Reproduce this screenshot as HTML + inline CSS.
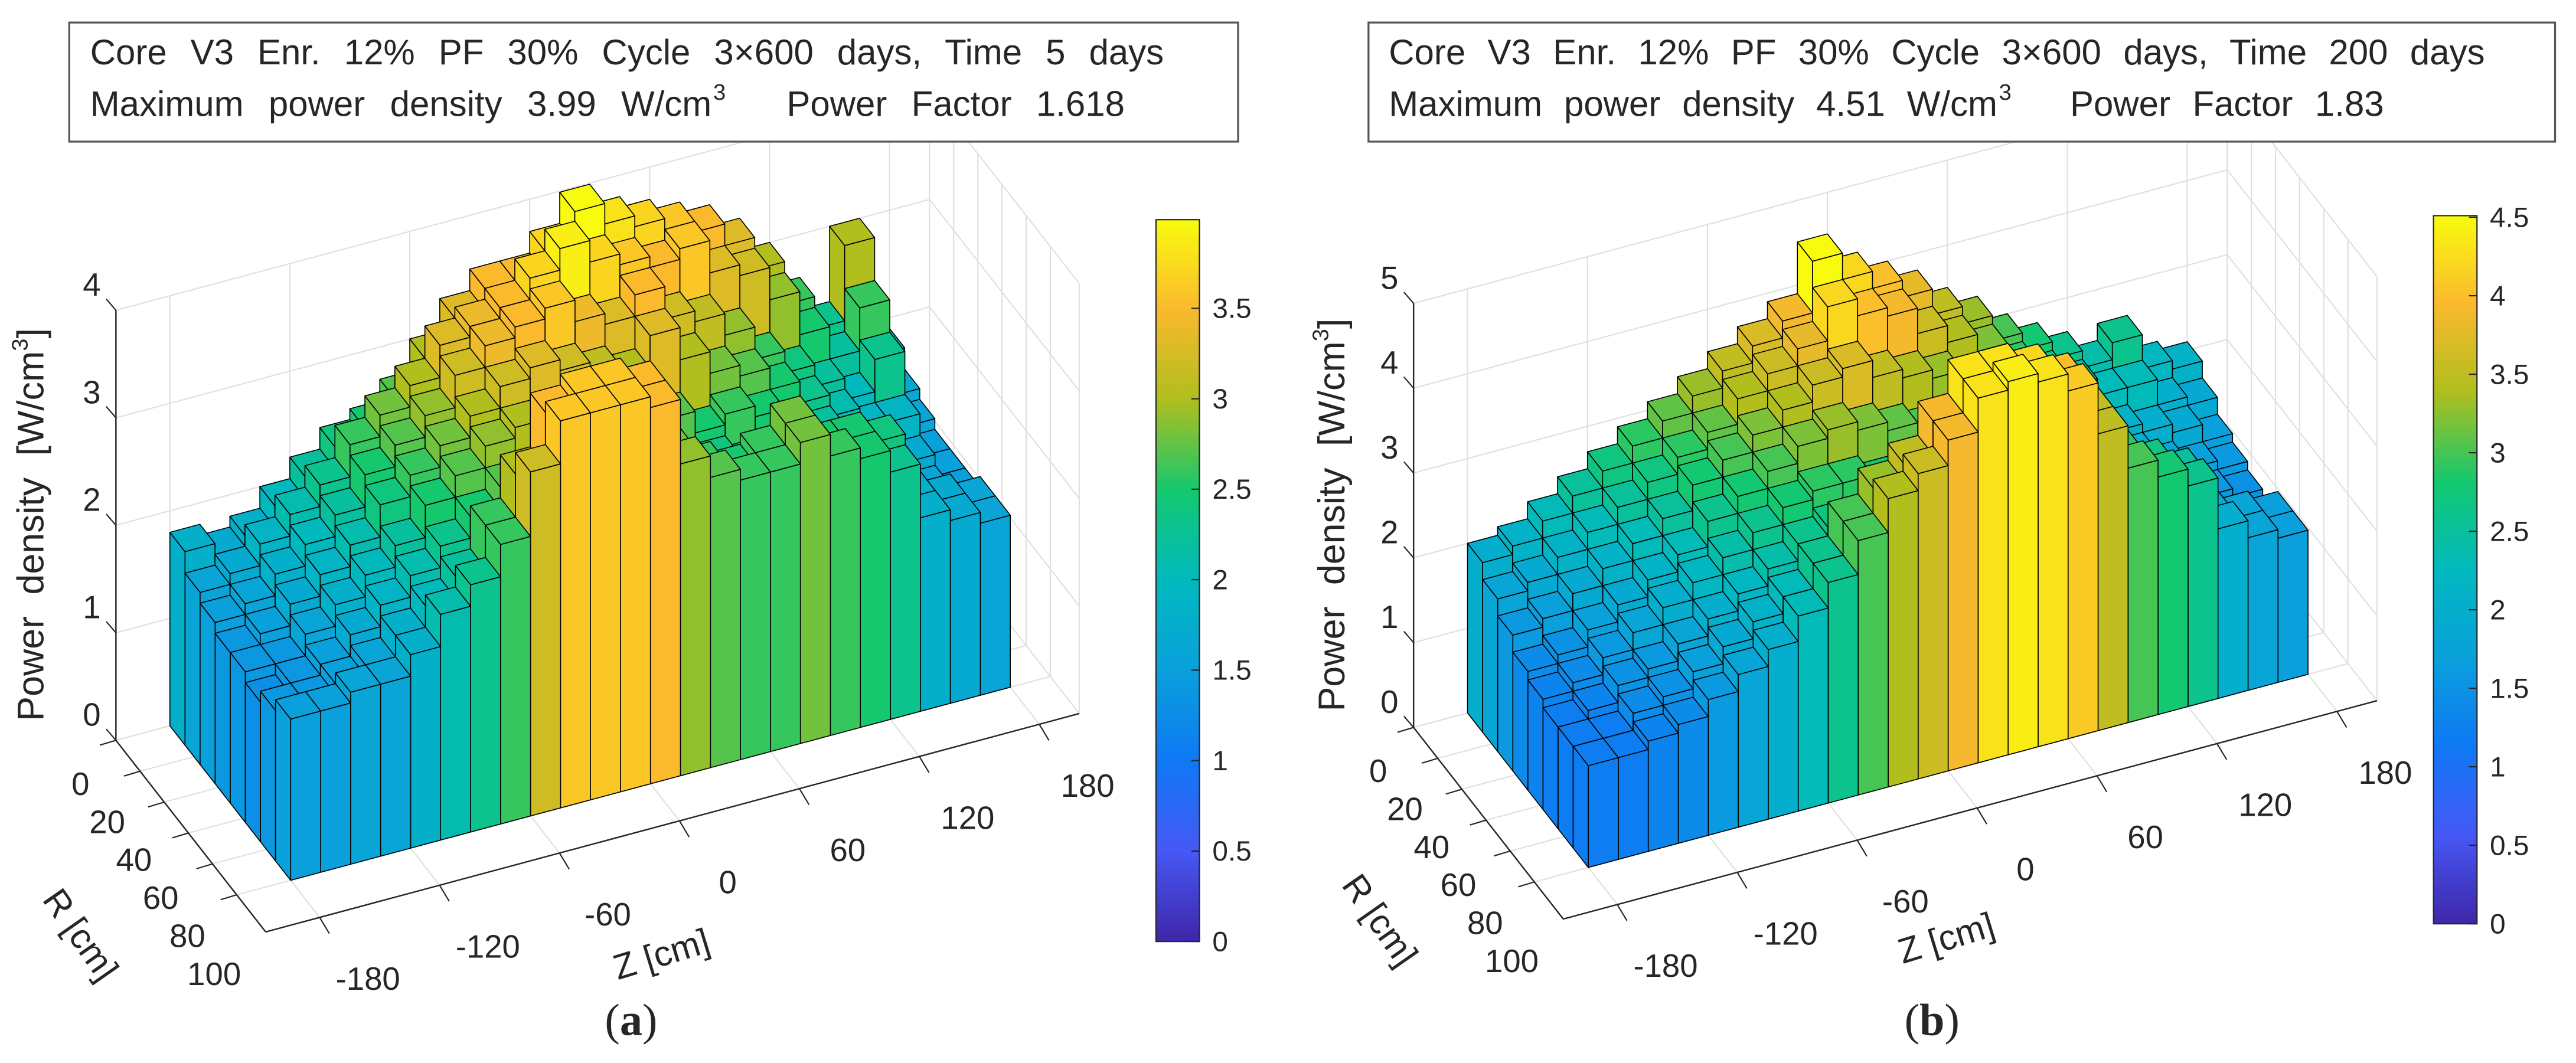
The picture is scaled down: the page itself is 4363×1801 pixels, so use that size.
<!DOCTYPE html>
<html><head><meta charset="utf-8"><style>
html,body{margin:0;padding:0;background:#fff}
svg{display:block}
text{font-family:"Liberation Sans",sans-serif;fill:#262626}
</style></head><body>
<svg id="fig" width="4363" height="1801" viewBox="0 0 1600 660.5" preserveAspectRatio="none" xmlns="http://www.w3.org/2000/svg">
<g id="pa"></g>
<g id="pb"></g>
</svg>
<script>
// Z ticks (cm) and R ticks (cm)
const zTicks = [-180,-120,-60,0,60,120,180];
const rTicks = [0,20,40,60,80,100];
const yTicksA = [0,1,2,3,4];
const yTicksB = [0,1,2,3,4,5];
const cbTicksA = [0,0.5,1,1.5,2,2.5,3,3.5];
const cbTicksB = [0,0.5,1,1.5,2,2.5,3,3.5,4,4.5];
// Panel (a) power density, rows from R=0 (back) to R=100 (front), 24 Z bins each
const a0 = [1.8,1.7,1.8,2.0,2.2,2.4,2.5,2.7,3.0,3.3,3.5,3.5,3.7,3.99,3.8,3.7,3.6,3.5,3.3,3.0,2.6,2.3,3.0,1.9];
const a1 = [1.6,1.7,1.9,2.1,2.3,2.6,2.8,3.0,3.3,3.4,3.5,3.7,3.9,3.7,3.6,3.5,3.6,3.3,3.2,2.9,2.5,2.2,2.6,1.7];
const a2 = [1.5,1.6,1.8,2.0,2.2,2.5,2.7,2.9,3.2,3.4,3.5,3.6,3.4,3.3,3.5,3.2,3.1,2.9,2.6,2.4,2.2,2.0,2.3,1.6];
const a3 = [1.4,1.5,1.7,1.9,2.1,2.4,2.6,2.8,3.0,3.2,3.3,3.2,3.1,3.0,3.3,3.0,2.8,2.7,2.5,2.3,2.1,1.9,1.9,1.5];
const a4 = [1.4,1.4,1.6,1.8,2.0,2.2,2.5,2.7,2.9,3.0,2.9,2.8,2.7,2.8,2.7,2.5,2.6,2.5,2.3,2.2,2.0,1.8,1.7,1.5];
const a5 = [1.3,1.4,1.5,1.7,1.9,2.1,2.3,2.5,2.7,2.6,2.5,2.4,2.5,2.3,2.4,2.4,2.3,2.2,2.1,2.0,1.9,1.7,1.6,1.5];
const a6 = [1.4,1.4,1.5,1.6,1.8,2.0,2.2,2.6,3.0,3.5,3.6,3.6,3.5,2.8,2.6,2.5,2.6,2.8,2.5,2.5,2.4,1.8,1.7,1.6];
const a7 = [1.5,1.5,1.6,1.6,1.8,2.1,2.3,2.6,3.2,3.6,3.6,3.6,3.5,2.9,2.7,2.6,2.6,2.8,2.6,2.5,2.3,1.8,1.7,1.6];
// Panel (b)
const b0 = [2.0,2.1,2.3,2.5,2.7,2.9,3.1,3.3,3.5,3.7,3.9,4.51,4.2,4.0,3.8,3.5,3.3,3.0,2.8,2.6,2.4,2.6,2.2,2.1];
const b1 = [1.8,1.9,2.1,2.3,2.5,2.7,2.9,3.1,3.4,3.6,3.8,4.2,4.0,3.9,3.6,3.4,3.2,2.9,2.7,2.5,2.3,2.3,2.0,1.9];
const b2 = [1.6,1.7,1.9,2.1,2.3,2.5,2.8,3.0,3.2,3.4,3.6,3.7,3.5,3.4,3.3,3.1,2.9,2.7,2.5,2.3,2.1,2.0,1.9,1.7];
const b3 = [1.4,1.5,1.7,1.9,2.1,2.3,2.6,2.8,3.0,3.2,3.3,3.2,3.1,3.0,3.0,2.8,2.7,2.5,2.3,2.2,2.0,1.8,1.7,1.6];
const b4 = [1.3,1.4,1.6,1.8,2.0,2.2,2.4,2.6,2.8,2.9,2.9,2.8,2.7,2.7,2.6,2.5,2.4,2.3,2.1,2.0,1.9,1.7,1.6,1.5];
const b5 = [1.2,1.3,1.5,1.6,1.8,2.0,2.2,2.4,2.6,2.7,2.6,2.6,2.5,2.5,2.4,2.3,2.2,2.1,2.0,1.9,1.8,1.6,1.5,1.4];
const b6 = [1.2,1.2,1.4,1.5,1.7,1.9,2.1,2.3,2.6,3.0,3.3,3.5,3.9,4.3,4.3,4.2,4.0,3.5,2.9,2.7,2.5,1.9,1.8,1.7];
const b7 = [1.2,1.2,1.3,1.4,1.6,1.8,2.0,2.3,2.6,3.0,3.4,3.6,3.9,4.3,4.4,4.3,4.1,3.5,3.0,2.8,2.6,2.0,1.8,1.7];
const rowsA = [a0,a1,a2,a3,a4,a5,a6,a7];
const rowsB = [b0,b1,b2,b3,b4,b5,b6,b7];

const NS = "http://www.w3.org/2000/svg";
function mk(tag, attrs, parent){
  const e = document.createElementNS(NS, tag);
  for (const k in attrs) e.setAttribute(k, attrs[k]);
  parent.appendChild(e);
  return e;
}
const stops = [[0,[62,38,168]],[0.125,[70,88,245]],[0.25,[15,120,245]],[0.375,[10,160,220]],[0.5,[0,185,190]],[0.625,[20,200,110]],[0.75,[175,190,30]],[0.875,[250,185,45]],[1,[249,251,14]]];
function parula(t){
  t = Math.max(0, Math.min(1, t));
  for (let i=1;i<stops.length;i++){
    if (t <= stops[i][0]){
      const [t0,c0] = stops[i-1], [t1,c1] = stops[i];
      const f = (t-t0)/(t1-t0);
      return 'rgb(' + c0.map((v,j)=>Math.round(v+(c1[j]-v)*f)).join(',') + ')';
    }
  }
  return 'rgb(249,251,14)';
}

function panel(g, cfg){
  const zMin=-207, zMax=200, rMax=124, bz0=-180, bz1=180, nZ=24, nR=8;
  const P = (zc, rc, h) => {
    const x = cfg.C[0] + 447*(zc-zMin)/360 + 75*rc/100;
    const y0 = cfg.C[1] - 120*(zc-zMin)/360 + 96*rc/100;
    return [x, y0 - h*cfg.hs];
  };
  const pts = arr => arr.map(p=>p[0].toFixed(2)+','+p[1].toFixed(2)).join(' ');
  const grid = mk('g',{},g);
  
  
  const line=(p,q,stroke,w)=>mk('line',{x1:p[0],y1:p[1],x2:q[0],y2:q[1],stroke:stroke,'stroke-width':w},grid);
  const gc='#e0e0e0';
  cfg.yTicks.forEach(v=>line(P(zMin,0,v),P(zMax,0,v),gc,0.8));
  zTicks.forEach(z=>line(P(z,0,0),P(z,0,cfg.hmax),gc,0.8));
  cfg.yTicks.forEach(v=>line(P(zMax,0,v),P(zMax,rMax,v),gc,0.8));
  rTicks.forEach(r=>line(P(zMax,r,0),P(zMax,r,cfg.hmax),gc,0.8));
  line(P(zMax,0,cfg.hmax),P(zMax,0,0),gc,0.8);
  line(P(zMax,rMax,cfg.hmax),P(zMax,rMax,0),gc,0.8);
  zTicks.forEach(z=>line(P(z,0,0),P(z,rMax,0),gc,0.8));
  rTicks.forEach(r=>line(P(zMin,r,0),P(zMax,r,0),gc,0.8));
  line(P(zMin,0,0),P(zMin,0,cfg.hmax),'#262626',0.9);
  line(P(zMin,0,0),P(zMin,rMax,0),'#262626',0.9);
  line(P(zMin,rMax,0),P(zMax,rMax,0),'#262626',0.9);
  cfg.yTicks.forEach(v=>{
    const p=P(zMin,0,v);
    line(p,[p[0]-6,p[1]-7],'#262626',0.8);
    const t=mk('text',{x:p[0]-15,y:p[1]-9,'font-size':20,'text-anchor':'middle'},g);
    t.textContent=v;
    
    
  });
  rTicks.forEach(r=>{
    const p=P(zMin,r,0), f=r/100;
    line(p,[p[0]-10,p[1]+3],'#262626',0.8);
    const t=mk('text',{x:p[0]-22+8*f,y:p[1]+34+22*f,'font-size':20,'text-anchor':'middle'},g);
    t.textContent=r;
    
    
  });
  zTicks.forEach(z=>{
    const p=P(z,rMax,0);
    line(p,[p[0]+6,p[1]+10],'#262626',0.8);
    const t=mk('text',{x:p[0]+30,y:p[1]+45,'font-size':20,'text-anchor':'middle'},g);
    t.textContent=z;
    
    
  });
  const bars=mk('g',{stroke:'#000','stroke-width':0.6,'stroke-linejoin':'round'},g);
  
  
  const dz=(bz1-bz0)/nZ, dr=100/nR;
  for(let ri=0;ri<nR;ri++){
    for(let zi=nZ-1;zi>=0;zi--){
      const h=cfg.rows[ri][zi];
      const z0=bz0+zi*dz, z1=z0+dz, r0=ri*dr, r1=r0+dr;
      const col=parula(h/cfg.cmax);
      const bar=mk('g',{fill:col},bars);
      
      
      mk('polygon',{points:pts([P(z0,r0,0),P(z0,r1,0),P(z0,r1,h),P(z0,r0,h)])},bar);
      mk('polygon',{points:pts([P(z0,r1,0),P(z1,r1,0),P(z1,r1,h),P(z0,r1,h)])},bar);
      mk('polygon',{points:pts([P(z0,r0,h),P(z1,r0,h),P(z1,r1,h),P(z0,r1,h)])},bar);
    }
  }
  const cb=cfg.cb;
  const defs=mk('defs',{},g);
  const lg=mk('linearGradient',{id:'grad'+cfg.id,x1:0,y1:1,x2:0,y2:0},defs);
  stops.forEach(s=>mk('stop',{offset:s[0],'stop-color':'rgb('+s[1].join(',')+')'},lg));
  const cbr=mk('rect',{x:cb.x,y:cb.y0,width:cb.w,height:cb.y1-cb.y0,fill:'url(#grad'+cfg.id+')',stroke:'#262626','stroke-width':0.8},g);
  
  
  cfg.cbTicks.forEach(v=>{
    const y=cb.y1-(cb.y1-cb.y0)*v/cfg.cmax;
    mk('line',{x1:cb.x+cb.w-5,y1:y,x2:cb.x+cb.w,y2:y,stroke:'#262626','stroke-width':0.8},g);
    const t=mk('text',{x:cb.x+cb.w+8,y:y+6,'font-size':17.5},g);
    t.textContent=v;
    
    
  });
}

function fit(t, target){
  const len=t.getComputedTextLength();
  const n=(t.textContent.match(/ /g)||[]).length;
  if(n>0) t.setAttribute('word-spacing',((target-len)/n).toFixed(2));
}

function texts(g, o){
  const box=mk('rect',{x:o.bx,y:14,width:o.bw,height:74,fill:'#fff',stroke:'#555','stroke-width':1.2},g);
  
  
  const t1=mk('text',{x:o.tx,y:40,'font-size':22},g);
  t1.textContent=o.line1;
  
  
  fit(t1,o.l1);
  const t2=mk('text',{x:o.tx,y:72,'font-size':22},g);
  t2.textContent=o.line2a;
  
  
  fit(t2,o.l2);
  const sup=mk('text',{x:o.tx+o.l2+1,y:62,'font-size':14},g);
  sup.textContent='3';
  
  
  const t3=mk('text',{x:o.px,y:72,'font-size':22},g);
  t3.textContent=o.line2b;
  
  
  fit(t3,o.l3);
  const yl=mk('text',{x:0,y:0,'font-size':23,'text-anchor':'middle','word-spacing':7,transform:'translate('+o.ylx+','+o.yly+') rotate(-90)'},g);
  
  
  yl.innerHTML='Power density [W/cm<tspan font-size="14" dy="-10">3</tspan><tspan dy="10">]</tspan>';
  const rl=mk('text',{x:0,y:0,'font-size':22,'text-anchor':'middle',transform:'translate('+o.rlx+','+o.rly+') rotate(55)'},g);
  rl.textContent='R [cm]';
  
  
  const zl=mk('text',{x:0,y:0,'font-size':22,'text-anchor':'middle',transform:'translate('+o.zlx+','+o.zly+') rotate(-17)'},g);
  zl.textContent='Z [cm]';
  
  
  const cap=mk('text',{x:o.capx,y:643,'font-size':28,'text-anchor':'middle',style:'font-family:"Liberation Serif",serif'},g);
  cap.innerHTML='(<tspan font-weight="bold">'+o.cap+'</tspan>)';
  
  
}

const ga=document.getElementById('pa'), gb=document.getElementById('pb');
panel(ga,{id:'a',C:[72,460],hs:66.8,hmax:4,cmax:3.99,rows:rowsA,yTicks:yTicksA,cbTicks:cbTicksA,cb:{x:718,w:27,y0:136.5,y1:585}});
panel(gb,{id:'b',C:[878,452],hs:52.7,hmax:5,cmax:4.51,rows:rowsB,yTicks:yTicksB,cbTicks:cbTicksB,cb:{x:1511.5,w:27,y0:134,y1:574}});
texts(ga,{bx:43,bw:726,tx:56,l1:684,l2:386,px:488.6,l3:210,line1:'Core V3 Enr. 12% PF 30%  Cycle 3×600 days, Time  5 days',line2a:'Maximum power density 3.99 W/cm',line2b:'Power Factor 1.618',ylx:27,yly:326,rlx:44,rly:585,zlx:413,zly:600,capx:392,cap:'a'});
texts(gb,{bx:850,bw:737,tx:862.6,l1:696,l2:378,px:1285.7,l3:195,line1:'Core V3 Enr. 12% PF 30%  Cycle 3×600 days, Time  200 days',line2a:'Maximum power density 4.51 W/cm',line2b:'Power Factor 1.83',ylx:835,yly:320,rlx:851,rly:576,zlx:1211,zly:590,capx:1200,cap:'b'});
</script>
</body></html>
